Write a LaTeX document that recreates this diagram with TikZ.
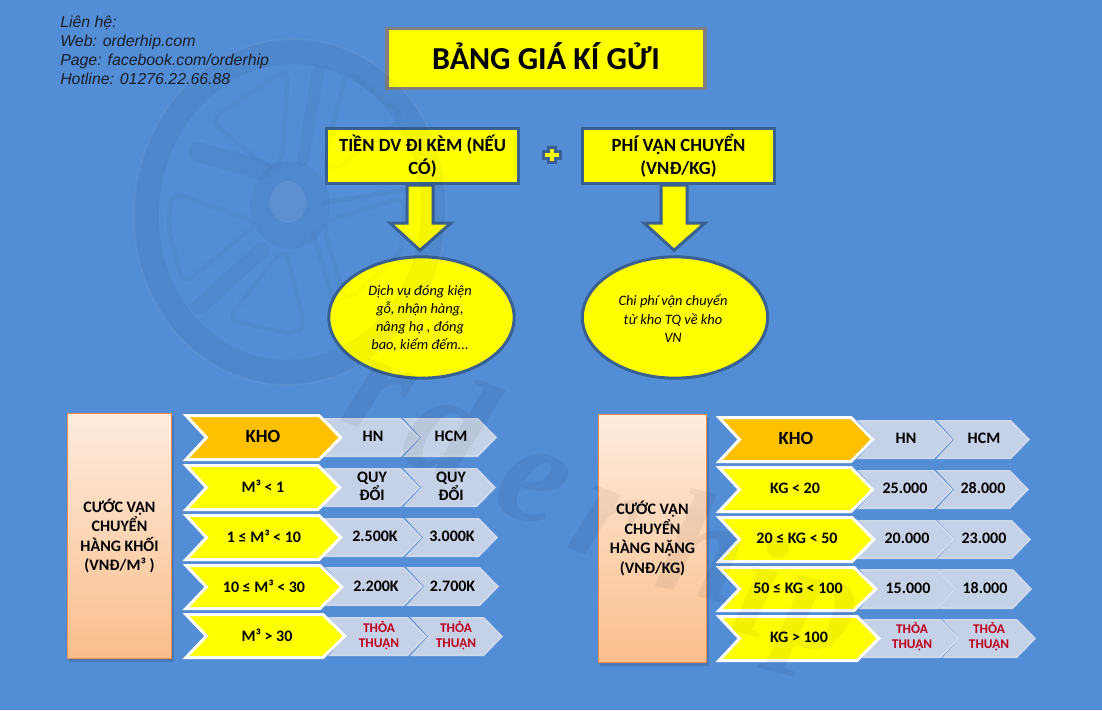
\documentclass[tikz,border=0pt]{standalone}
\usepackage{fontspec}
\setmainfont{Carlito}
\newfontfamily\contactfont{Liberation Sans}
\newfontfamily\wmfont{Liberation Serif}
\usetikzlibrary{calc,shapes.geometric}
\definecolor{bgblue}{RGB}{83,141,213}
\definecolor{edgeblue}{RGB}{56,96,146}
\definecolor{pureyellow}{RGB}{255,255,0}
\definecolor{hdrgold}{RGB}{255,192,0}
\definecolor{cellgrey}{RGB}{197,209,230}
\definecolor{celledge}{RGB}{209,219,237}
\definecolor{redtxt}{RGB}{192,0,32}
\definecolor{peachtop}{RGB}{254,236,222}
\definecolor{peachbot}{RGB}{250,190,140}
\definecolor{peachedge}{RGB}{240,140,70}
\definecolor{titleedge}{RGB}{128,128,128}
\tikzset{
  x=0.75pt,y=-0.75pt,
  titlebox/.style={draw=titleedge,line width=2.5pt,fill=pureyellow,inner sep=0pt,minimum width=238.5pt,minimum height=45pt,font=\fontsize{24}{28}\selectfont\bfseries},
  headbox/.style={draw=edgeblue,line width=2.25pt,fill=pureyellow,inner sep=0pt,minimum width=144pt,minimum height=41.25pt,align=center,font=\fontsize{14}{17.2}\selectfont\bfseries},
  noteell/.style={ellipse,draw=edgeblue,line width=2.25pt,fill=pureyellow,inner sep=0pt,minimum width=139pt,minimum height=91pt},
  notetxt/.style={align=center,inner sep=0pt,font=\fontsize{10.8}{13.6}\selectfont\itshape},
  blockarrow/.style={fill=pureyellow,draw=edgeblue,line width=2.25pt,miter limit=10},
  sidebox/.style={draw=peachedge,line width=1pt,top color=peachtop,bottom color=peachbot,inner sep=0pt,align=center,font=\fontsize{12}{14.6}\selectfont\bfseries},
  softshadow/.style={fill=black,fill opacity=.13},
  bigc/.style={draw=white,line width=2.25pt,miter limit=10},
  cellc/.style={fill=cellgrey},
  celltxt/.style={align=center,inner sep=0pt,font=\fontsize{12}{13.5}\selectfont\bfseries},
  redcell/.style={align=center,inner sep=0pt,text=redtxt,font=\fontsize{10}{11.3}\selectfont\bfseries},
  kho/.style={align=center,inner sep=0pt,font=\fontsize{14}{16}\selectfont\bfseries},
  wmring/.style={fill=black,fill opacity=.04},
  wmwin/.style={draw=black,draw opacity=.025,line width=3.5pt,rounded corners=9pt},
  wmspoke/.style={draw=black,draw opacity=.03,line cap=round},
  wmlight/.style={draw=white,draw opacity=.05,line width=1.4pt},
  wmletter/.style={inner sep=0pt,text=black,text opacity=.05,font=\fontsize{112}{112}\selectfont\wmfont\itshape\bfseries},
}
\newcommand\bigchev[5]{%
  \draw[bigc,fill=#5] (#1+4,#3+1.5) -- (#2-24,#3+1.5) -- (#2-2.2,{(#3+#4)/2}) -- (#2-24,#4-1.5) -- (#1+4,#4-1.5) -- (#1+24.5,{(#3+#4)/2}) -- cycle;}
\newcommand\cellchev[4]{%
  \fill[cellc] (#1,#3) -- (#2-19,#3) -- (#2,{(#3+#4)/2}) -- (#2-19,#4) -- (#1,#4) -- (#1+18,{(#3+#4)/2}) -- cycle;
  \draw[celledge,line width=1pt] (#1+3,#3+1) -- (#2-19.5,#3+1) -- (#2-1.5,{(#3+#4)/2}) -- (#2-19.5,#4-1) -- (#1+3,#4-1);}
\begin{document}
\begin{tikzpicture}
\useasboundingbox (0,0) rectangle (1102,710);
\fill[bgblue] (0,0) rectangle (1102,710);

% heading shapes
\node[titlebox] (title) at (546,58.5) {\raisebox{-7.9pt}[0pt][0pt]{BẢNG GIÁ KÍ GỬI}};
\node[noteell] (ellA) at (421.5,317.5) {};
\node[noteell] (ellB) at (675,317.5) {};
\node[headbox] (boxA) at (422.5,156) {TIỀN DV ĐI KÈM (NẾU\\CÓ)};
\node[headbox] (boxB) at (678.5,156) {PHÍ VẬN CHUYỂN\\(VNĐ/KG)};
\draw[blockarrow] ($(boxA.south)+(-15.5,0)$) -- ($(boxA.south)+(10.5,0)$) -- ($(boxA.south)+(10.5,38)$) -- ($(boxA.south)+(28.5,38)$) -- ($(ellA.north)+(-1.5,-5)$) -- ($(boxA.south)+(-32.5,38)$) -- ($(boxA.south)+(-15.5,38)$) -- cycle;
\draw[blockarrow] ($(boxB.south)+(-17.5,0)$) -- ($(boxB.south)+(8.5,0)$) -- ($(boxB.south)+(8.5,38)$) -- ($(boxB.south)+(26.5,38)$) -- ($(ellB.north)+(-1,-5)$) -- ($(boxB.south)+(-34.5,38)$) -- ($(boxB.south)+(-17.5,38)$) -- cycle;
\draw[edgeblue,fill=pureyellow,line width=1.6pt] (548.5,147.5) -- (555.5,147.5) -- (555.5,151.5) -- (560.5,151.5) -- (560.5,158.5) -- (555.5,158.5) -- (555.5,162.5) -- (548.5,162.5) -- (548.5,158.5) -- (543.5,158.5) -- (543.5,151.5) -- (548.5,151.5) -- cycle;

% left table
\fill[softshadow] (69,416) rectangle (174,662);
\node[sidebox,minimum width=78pt,minimum height=184pt] (sideL) at (119.5,536) {CƯỚC VẬN\\CHUYỂN\\HÀNG KHỐI\\(VNĐ/M³ )};
\cellchev{323}{420}{418}{457}\cellchev{403}{497}{418}{457}
\cellchev{323}{420}{468}{507}\cellchev{403}{496}{468}{507}
\cellchev{323}{422}{518}{557}\cellchev{405}{498}{518}{557}
\cellchev{325}{423}{567}{606}\cellchev{406}{499}{567}{606}
\cellchev{328}{427}{617}{656}\cellchev{410}{503}{617}{656}
\bigchev{182}{343}{414}{461}{hdrgold}
\bigchev{182}{342}{464}{511}{pureyellow}
\bigchev{182}{343}{514}{561}{pureyellow}
\bigchev{182}{344}{564}{610}{pureyellow}
\bigchev{182}{347}{613}{659}{pureyellow}

% right table
\fill[softshadow] (600,417) rectangle (709,666);
\node[sidebox,minimum width=81pt,minimum height=186pt] (sideR) at (652.5,538.5) {CƯỚC VẬN\\CHUYỂN\\HÀNG NẶNG\\(VNĐ/KG)};
\cellchev{857}{953}{420}{459}\cellchev{936}{1030}{420}{459}
\cellchev{857}{953}{470}{509}\cellchev{936}{1029}{470}{509}
\cellchev{857}{955}{520}{559}\cellchev{937}{1031}{520}{559}
\cellchev{859}{957}{569}{609}\cellchev{938}{1032}{569}{609}
\cellchev{862}{960}{619}{658}\cellchev{942}{1036}{619}{658}
\bigchev{715}{875}{416}{463}{hdrgold}
\bigchev{715}{875}{466}{513}{pureyellow}
\bigchev{715}{876}{516}{563}{pureyellow}
\bigchev{715}{878}{566}{612}{pureyellow}
\bigchev{715}{881}{615}{662}{pureyellow}

% watermark: wheel
\fill[wmring,even odd rule] (290,212) [rotate around={-6:(290,212)}] ellipse [x radius=156,y radius=173] ellipse [x radius=131,y radius=148];
\draw[wmlight,rotate around={-6:(290,212)}] (290,212) ellipse [x radius=156,y radius=173];
\fill[black,fill opacity=.03] (290,205) ellipse [x radius=40,y radius=44];
\draw[wmwin] (288,68) -- (210,120) -- (270,170) -- (282,163) -- cycle;
\draw[wmwin] (347,70) -- (323,165) -- (335,170) -- (405,117) -- cycle;
\draw[wmwin] (322,222) -- (405,197) -- (402,252) -- (346,302) -- cycle;
\draw[wmwin] (285,247) -- (227,320) -- (297,335) -- (304,323) -- cycle;
\draw[wmwin] (172,192) -- (258,223) -- (183,285) -- (168,225) -- cycle;
\draw[wmspoke,line width=15pt] (198,152) -- (262,170);
\draw[wmspoke,line width=12pt] (199,307) -- (262,250);
\draw[wmspoke,line width=9pt] (318,72) -- (303,160);
\draw[wmspoke,line width=3.5pt] (323,203) -- (403,190);
\draw[wmspoke,line width=3.5pt] (313,232) -- (333,300);
\fill[white,fill opacity=.07] (288,202) ellipse [x radius=18,y radius=21];
% watermark: lettering
\node[wmletter,rotate=-22] (w1) at (378,398) {r};
\node[wmletter,rotate=-22] (w2) at (450,425) {d};
\node[wmletter,rotate=-22] (w3) at (532,487) {e};
\node[wmletter,rotate=-22] (w4) at (605,525) {r};
\node[wmletter,rotate=-14] (w5) at (705,545) {h};
\node[wmletter,rotate=-14] (w6) at (760,585) {i};
\node[wmletter,rotate=-14] (w7) at (815,630) {p};

% texts
\node[anchor=north west,align=left,inner sep=0pt,font=\fontsize{11.9}{14.25}\selectfont\contactfont\itshape,text={rgb,255:red,25;green,30;blue,45}] (contact) at (60,16) {Liên hệ:\\Web: orderhip.com\\Page: facebook.com/orderhip\\Hotline: 01276.22.66.88};
\node[notetxt] (noteA) at (420,318.5) {Dịch vụ đóng kiện\\gỗ, nhận hàng,\\nâng hạ , đóng\\bao, kiểm đếm...};
\node[notetxt] (noteB) at (673,318.5) {Chi phí vận chuyển\\từ kho TQ về kho\\VN};

\node[kho] (lk) at (263,436) {KHO};
\node[celltxt] (l1a) at (373,436) {HN};
\node[celltxt] (l1b) at (451,436) {HCM};
\node[celltxt] (l2) at (263,486) {M³ < 1};
\node[celltxt] (l2a) at (372,486) {QUY\\ĐỔI};
\node[celltxt] (l2b) at (451,486) {QUY\\ĐỔI};
\node[celltxt] (l3) at (264,536) {1 ≤ M³ < 10};
\node[celltxt] (l3a) at (375,536) {2.500K};
\node[celltxt] (l3b) at (452,536) {3.000K};
\node[celltxt] (l4) at (264,586) {10 ≤ M³ < 30};
\node[celltxt] (l4a) at (376,586) {2.200K};
\node[celltxt] (l4b) at (452.5,586) {2.700K};
\node[celltxt] (l5) at (267,635) {M³ > 30};
\node[redcell] (l5a) at (379,636) {THỎA\\THUẬN};
\node[redcell] (l5b) at (456,636) {THỎA\\THUẬN};

\node[kho] (rk) at (796,438) {KHO};
\node[celltxt] (r1a) at (906,438) {HN};
\node[celltxt] (r1b) at (984,438) {HCM};
\node[celltxt] (r2) at (795,488) {KG < 20};
\node[celltxt] (r2a) at (905,488) {25.000};
\node[celltxt] (r2b) at (983,488) {28.000};
\node[celltxt] (r3) at (797,538) {20 ≤ KG < 50};
\node[celltxt] (r3a) at (907,538) {20.000};
\node[celltxt] (r3b) at (984,538) {23.000};
\node[celltxt] (r4) at (798,588) {50 ≤ KG < 100};
\node[celltxt] (r4a) at (908,588) {15.000};
\node[celltxt] (r4b) at (985,588) {18.000};
\node[celltxt] (r5) at (799,637) {KG > 100};
\node[redcell] (r5a) at (912,637) {THỎA\\THUẬN};
\node[redcell] (r5b) at (989,637) {THỎA\\THUẬN};
\end{tikzpicture}
\end{document}
